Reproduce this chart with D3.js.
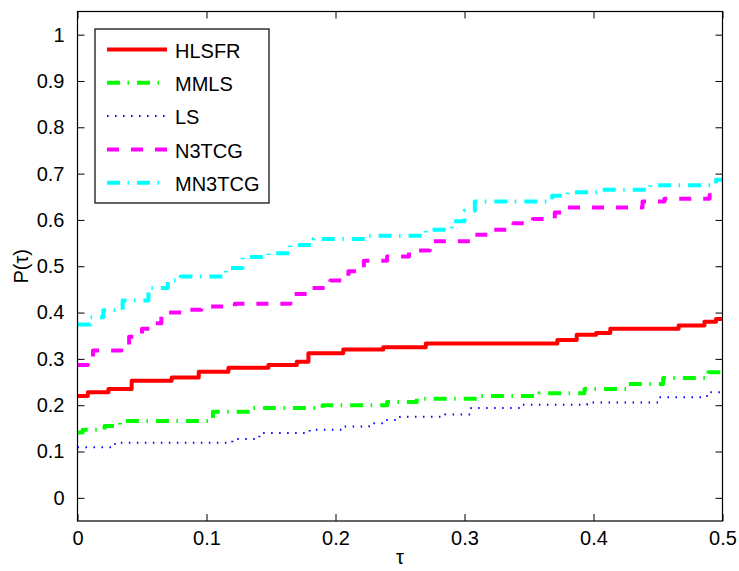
<!DOCTYPE html>
<html>
<head>
<meta charset="utf-8">
<script src="https://cdn.jsdelivr.net/npm/d3@7"></script>
<style>
  body { margin: 0; background: #fff; }
  text { font-family: "Liberation Sans", Arial, sans-serif; }
</style>
</head>
<body>
<svg id="profile"></svg>
<script>
// Data: performance profile steps, [tau, P(tau)]
const seriesNames = ["HLSFR", "MMLS", "LS", "N3TCG", "MN3TCG"];
const hlsfr = [[0, 0.22], [0.008, 0.228], [0.024, 0.235], [0.042, 0.253], [0.073, 0.26], [0.094, 0.272], [0.117, 0.281], [0.148, 0.287], [0.17, 0.294], [0.179, 0.312], [0.206, 0.32], [0.237, 0.325], [0.27, 0.333], [0.372, 0.341], [0.387, 0.352], [0.402, 0.356], [0.413, 0.365], [0.466, 0.372], [0.486, 0.38], [0.495, 0.386]];
const mmls = [[0, 0.141], [0.004, 0.147], [0.021, 0.155], [0.033, 0.166], [0.105, 0.186], [0.136, 0.194], [0.19, 0.2], [0.24, 0.207], [0.263, 0.214], [0.313, 0.22], [0.358, 0.226], [0.393, 0.235], [0.426, 0.246], [0.454, 0.259], [0.489, 0.271]];
const ls = [[0, 0.109], [0.029, 0.119], [0.12, 0.127], [0.141, 0.14], [0.18, 0.147], [0.207, 0.154], [0.226, 0.161], [0.238, 0.168], [0.25, 0.175], [0.285, 0.18], [0.305, 0.194], [0.344, 0.201], [0.395, 0.206], [0.451, 0.217], [0.488, 0.228]];
const n3tcg = [[0, 0.287], [0.008, 0.298], [0.012, 0.318], [0.034, 0.33], [0.04, 0.348], [0.05, 0.365], [0.058, 0.377], [0.065, 0.4], [0.081, 0.406], [0.096, 0.413], [0.122, 0.419], [0.165, 0.44], [0.18, 0.453], [0.196, 0.469], [0.21, 0.489], [0.222, 0.512], [0.24, 0.521], [0.257, 0.534], [0.273, 0.554], [0.305, 0.568], [0.32, 0.579], [0.338, 0.593], [0.353, 0.602], [0.37, 0.616], [0.38, 0.627], [0.438, 0.64], [0.455, 0.646], [0.49, 0.654]];
const mn3tcg = [[0, 0.374], [0.01, 0.39], [0.02, 0.405], [0.035, 0.426], [0.055, 0.453], [0.07, 0.469], [0.08, 0.478], [0.115, 0.496], [0.128, 0.52], [0.148, 0.528], [0.165, 0.546], [0.183, 0.559], [0.226, 0.566], [0.27, 0.579], [0.29, 0.597], [0.3, 0.62], [0.308, 0.64], [0.368, 0.652], [0.38, 0.66], [0.405, 0.665], [0.444, 0.675], [0.495, 0.687]];
const xTicks = [0, 0.1, 0.2, 0.3, 0.4, 0.5];
const yTicks = [0, 0.1, 0.2, 0.3, 0.4, 0.5, 0.6, 0.7, 0.8, 0.9, 1];

const width = 739;
const height = 571;
const svg = d3.select("#profile").attr("width", width).attr("height", height);

const margin = { top: 11.5, bottom: 50, left: 77.5, right: 16.5 };
const innerWidth = width - margin.left - margin.right;
const innerHeight = height - margin.top - margin.bottom;

const xScale = d3.scaleLinear().domain([0, 0.5]).range([0, innerWidth]);
const yScale = d3.scaleLinear().domain([-0.05, 1.05]).range([innerHeight, 0]);

const g = svg.append("g").attr("transform", `translate(${margin.left},${margin.top})`);

g.append("clipPath").attr("id", "plot-clip")
  .append("rect").attr("width", innerWidth).attr("height", innerHeight);

// Styles per series
const styles = [
  { data: hlsfr, color: "#ff0000", width: 4, dash: null },
  { data: mmls, color: "#00ff00", width: 4, dash: "13,7.5,1.5,8" },
  { data: ls, color: "#0000ff", width: 2, dash: "1.5,6.5" },
  { data: n3tcg, color: "#ff00ff", width: 4, dash: "12,12" },
  { data: mn3tcg, color: "#00ffff", width: 4, dash: "13,7.5,1.5,8" },
];

const lineGen = d3.line()
  .x((d) => xScale(d[0]))
  .y((d) => yScale(d[1]))
  .curve(d3.curveStepAfter);

const lines = g.append("g").attr("clip-path", "url(#plot-clip)");
styles.forEach((s) => {
  const pts = s.data.concat([[0.5, s.data[s.data.length - 1][1]]]);
  lines.append("path")
    .attr("d", lineGen(pts))
    .attr("fill", "none")
    .attr("stroke", s.color)
    .attr("stroke-width", s.width)
    .attr("stroke-linejoin", "round")
    .attr("stroke-dasharray", s.dash);
});

// Axes (MATLAB box style, ticks inside)
const tickLen = 7;
const fontSize = 20;
g.append("g").attr("transform", `translate(0,${innerHeight})`)
  .call(d3.axisBottom(xScale).tickValues(xTicks).tickSizeInner(-tickLen).tickSizeOuter(0).tickPadding(10).tickFormat(d3.format("")));
g.append("g")
  .call(d3.axisLeft(yScale).tickValues(yTicks).tickSizeInner(-tickLen).tickSizeOuter(0).tickPadding(13).tickFormat(d3.format("")));
g.append("g")
  .call(d3.axisTop(xScale).tickValues(xTicks).tickSizeInner(-tickLen).tickSizeOuter(0).tickFormat(""));
g.append("g").attr("transform", `translate(${innerWidth},0)`)
  .call(d3.axisRight(yScale).tickValues(yTicks).tickSizeInner(-tickLen).tickSizeOuter(0).tickFormat(""));

g.selectAll(".domain").remove();
g.selectAll(".tick line").attr("stroke", "#000");
g.selectAll(".tick text").attr("font-size", fontSize).attr("fill", "#000")
  .attr("font-family", "Liberation Sans, Arial, sans-serif");

g.append("rect")
  .attr("width", innerWidth).attr("height", innerHeight)
  .attr("fill", "none").attr("stroke", "#000").attr("stroke-width", 1.2);

// Axis titles
g.append("text")
  .attr("x", innerWidth / 2).attr("y", innerHeight + 43)
  .attr("text-anchor", "middle").attr("font-size", fontSize)
  .text("τ");
g.append("text")
  .attr("transform", `rotate(-90)`)
  .attr("x", -innerHeight / 2).attr("y", -50)
  .attr("text-anchor", "middle").attr("font-size", fontSize)
  .text("P(τ)");

// Legend
const legend = svg.append("g").attr("transform", "translate(95,29)");
legend.append("rect")
  .attr("width", 174).attr("height", 174)
  .attr("fill", "#fff").attr("stroke", "#000").attr("stroke-width", 1.2);
styles.forEach((s, i) => {
  const y = 20.5 + i * 33.3;
  legend.append("line")
    .attr("x1", 12).attr("x2", 72).attr("y1", y).attr("y2", y)
    .attr("stroke", s.color).attr("stroke-width", s.width)
    .attr("stroke-dasharray", s.dash);
  legend.append("text")
    .attr("x", 80).attr("y", y + 1.2).attr("dy", "0.35em")
    .attr("font-size", fontSize)
    .text(seriesNames[i]);
});
</script>
</body>
</html>
